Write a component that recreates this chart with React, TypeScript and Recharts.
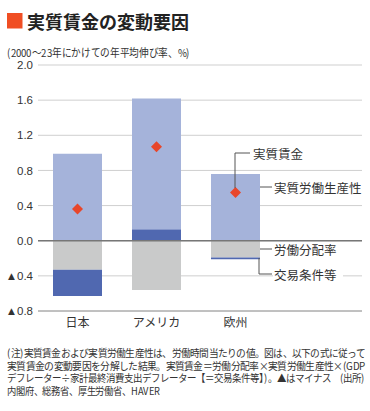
import React, { useLayoutEffect, useRef, useState } from "react";
import { ComposedChart, Bar, Line, XAxis, YAxis, CartesianGrid, ReferenceLine } from "recharts";

const categories = ["日本", "アメリカ", "欧州"];
const laborShare = [-0.33, -0.56, -0.19];
const termsOfTrade = [-0.3, 0.13, -0.02];
const productivity = [0.99, 1.49, 0.76];
const realWage = [0.36, 1.07, 0.55];
const yTicks = [-0.8, -0.4, 0, 0.4, 0.8, 1.2, 1.6, 2.0];

const data = categories.map((name, i) => ({
  name,
  labor: laborShare[i],
  tot: termsOfTrade[i],
  prod: productivity[i],
  wage: realWage[i],
}));

const JP = '"Noto Sans CJK JP", "Noto Sans", sans-serif';
const JP_TIGHT = '"NotoJPTight", "Noto Sans CJK JP", "Noto Sans", sans-serif';
const NUM = '"Liberation Sans", Arial, "Noto Sans CJK JP", sans-serif';

const fontCss = `@font-face {
  font-family: "NotoJPTight";
  src: local("Noto Sans CJK JP Regular"), local("NotoSansCJKjp-Regular"), local("Noto Sans CJK JP");
  ascent-override: 88%;
  descent-override: 12%;
  line-gap-override: 0%;
}`;

const fmt = (v: number) => (v < 0 ? "▲" + Math.abs(v).toFixed(1) : v.toFixed(1));

const Diamond = (props: any) => {
  const { cx, cy } = props;
  if (cx == null || cy == null) return null;
  const r = 5.5;
  return (
    <path
      key={`d-${cx}`}
      d={`M${cx},${cy - r} L${cx + r},${cy} L${cx},${cy + r} L${cx - r},${cy} Z`}
      fill="#e8462a"
    />
  );
};

const notes = [
  { t: "(注)実質賃金および実質労働生産性は、労働時間当たりの値。図は、以下の式に従って", w: 358 },
  { t: "実質賃金の変動要因を分解した結果。実質賃金＝労働分配率×実質労働生産性×(GDP", w: 359 },
  { t: "デフレーター÷家計最終消費支出デフレーター【＝交易条件等】)。▲はマイナス　(出所)", w: 358 },
  { t: "内閣府、総務省、厚生労働省、HAVER", w: 153 },
];

function FitText(props: { x: number; cy: number; w: number; size: number; text: string; color?: string }) {
  const { x, cy, w, size, text, color } = props;
  const ref = useRef<HTMLSpanElement>(null);
  const [s, setS] = useState(1);
  useLayoutEffect(() => {
    const measure = () => {
      if (ref.current) {
        const nw = ref.current.offsetWidth;
        if (nw > 0) setS(w / nw);
      }
    };
    measure();
    if ((document as any).fonts && (document as any).fonts.ready) {
      (document as any).fonts.ready.then(measure);
    }
  }, [w, text]);
  return (
    <span
      ref={ref}
      style={{
        position: "absolute",
        left: x,
        top: cy - size / 2 - 0.4,
        fontSize: size,
        lineHeight: `${size}px`,
        whiteSpace: "nowrap",
        fontFamily: JP_TIGHT,
        color: color || "#333",
        transform: `scaleX(${s})`,
        transformOrigin: "0 0",
      }}
    >
      {text}
    </span>
  );
}

export default function App() {
  return (
    <div style={{ position: "absolute", left: 0, top: 0, width: 370, height: 411, background: "#fff", overflow: "hidden" }}>
      <style>{fontCss}</style>
      <div style={{ position: "absolute", left: 0, top: 0 }}>
        <ComposedChart
          width={370}
          height={345}
          data={data}
          stackOffset="sign"
          margin={{ top: 65, right: 8, left: 0, bottom: 0 }}
        >
          <CartesianGrid horizontal vertical={false} stroke="#cfcfcf" />
          <XAxis
            dataKey="name"
            height={34}
            padding={{ left: 0, right: 87 }}
            tickLine={false}
            tickSize={0}
            tickMargin={7}
            axisLine={{ stroke: "#9a9a9a" }}
            tick={{ fontSize: 12, fill: "#333", fontFamily: JP }}
            interval={0}
          />
          <YAxis
            width={38}
            domain={[-0.8, 2.0]}
            ticks={yTicks}
            tickFormatter={fmt}
            axisLine={false}
            tickLine={false}
            tickSize={5}
            tickMargin={0}
            tick={{ fontSize: 11.5, fill: "#333", fontFamily: NUM }}
            interval={0}
          />
          <Bar dataKey="labor" stackId="a" fill="#c9caca" barSize={49} isAnimationActive={false} />
          <Bar dataKey="tot" stackId="a" fill="#5068b0" barSize={49} isAnimationActive={false} />
          <Bar dataKey="prod" stackId="a" fill="#a5b3da" barSize={49} isAnimationActive={false} />
          <ReferenceLine y={0} stroke="#777" strokeWidth={1.5} />
          <Line
            dataKey="wage"
            stroke="none"
            dot={<Diamond />}
            activeDot={false}
            legendType="none"
            isAnimationActive={false}
          />
        </ComposedChart>
      </div>
      <svg width={370} height={411} style={{ position: "absolute", left: 0, top: 0, pointerEvents: "none" }}>
        <rect x={7} y={13} width={15.5} height={15.5} fill="#f04e23" />
        <text x={27} y={21} dominantBaseline="central" fontSize={18} fontWeight={700} fontFamily={JP} fill="#222">
          実質賃金の変動要因
        </text>

        {/* annotations */}
        <g stroke="#555" strokeWidth={1} fill="none">
          <polyline points="235,188 235,153 250,153" />
          <polyline points="260,187 272,187" />
          <polyline points="260,249 272,249" />
          <polyline points="259,258 259,274 272,274" />
        </g>
        <rect x={273} y={266} width={70} height={16} fill="#fff" />
        <g fontSize={12.5} fontFamily={JP} fill="#333">
          <text x={253} y={153} dominantBaseline="central">実質賃金</text>
          <text x={274} y={187} dominantBaseline="central">実質労働生産性</text>
          <text x={274} y={249} dominantBaseline="central">労働分配率</text>
          <text x={274} y={274} dominantBaseline="central">交易条件等</text>
        </g>
      </svg>
      <FitText x={7} cy={53} w={183} size={11} text="(2000〜23年にかけての年平均伸び率、%)" />
      {notes.map((n, i) => (
        <FitText key={i} x={7} cy={353.5 + i * 12.8} w={n.w} size={10.5} text={n.t} />
      ))}
    </div>
  );
}
